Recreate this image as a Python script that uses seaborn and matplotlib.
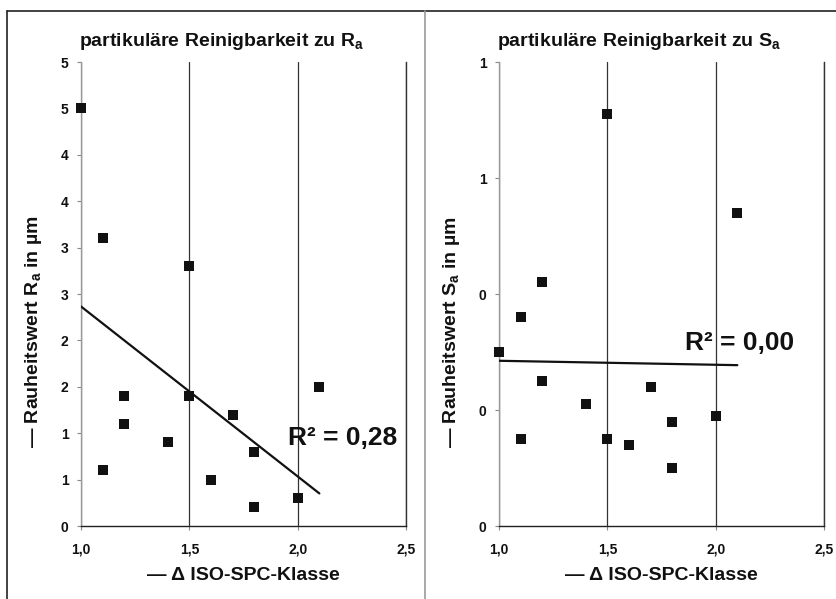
import numpy as np
import pandas as pd
import matplotlib
matplotlib.use("Agg")
import matplotlib.pyplot as plt
from matplotlib.lines import Line2D
import seaborn as sns

# Daten
iso_ra = [1.0, 1.1, 1.5, 1.2, 1.2, 1.1, 1.4, 1.5, 1.7, 1.8, 1.6, 1.8, 2.0, 2.1]
ra = [4.5, 3.1, 2.8, 1.4, 1.1, 0.6, 0.9, 1.4, 1.2, 0.8, 0.5, 0.2, 0.3, 1.5]

iso_sa = [1.5, 2.1, 1.2, 1.1, 1.0, 1.2, 1.4, 1.7, 2.0, 1.8, 1.1, 1.5, 1.6, 1.8]
sa = [0.71, 0.54, 0.42, 0.36, 0.30, 0.25, 0.21, 0.24, 0.19, 0.18, 0.15, 0.15, 0.14, 0.10]

x_ticks = [1.0, 1.5, 2.0, 2.5]
x_labels = ["1,0", "1,5", "2,0", "2,5"]
ra_ticks = [0, 0.5, 1, 1.5, 2, 2.5, 3, 3.5, 4, 4.5, 5]
ra_labels = ["0", "1", "1", "2", "2", "3", "3", "4", "4", "5", "5"]
sa_ticks = [0, 0.2, 0.4, 0.6, 0.8]
sa_labels = ["0", "0", "0", "1", "1"]

sns.set_style("white")
plt.rcParams['font.family'] = ['Liberation Sans', 'DejaVu Sans']
plt.rcParams['font.weight'] = 'bold'
plt.rcParams['mathtext.fontset'] = 'custom'
plt.rcParams['mathtext.rm'] = 'Liberation Sans:bold'
plt.rcParams['mathtext.it'] = 'Liberation Sans:bold'
plt.rcParams['mathtext.bf'] = 'Liberation Sans:bold'

fig = plt.figure(figsize=(8.37, 5.99), dpi=100)
W, H = 837, 599

panels = [
    dict(x=iso_ra, y=ra, ticks=ra_ticks, labels=ra_labels, ylim=(0, 5), sym="R",
         left=81, r2pos=(1.955, 0.95)),
    dict(x=iso_sa, y=sa, ticks=sa_ticks, labels=sa_labels, ylim=(0, 0.8), sym="S",
         left=499, r2pos=(1.86, 0.316)),
]

for p in panels:
    ax = fig.add_axes([p['left'] / W, 1 - 526 / H, 325 / W, 464 / H])
    df = pd.DataFrame({'iso': p['x'], 'val': p['y']})
    sns.scatterplot(data=df, x='iso', y='val', marker='s', color='#111111',
                    s=52, linewidth=0, ax=ax, zorder=4, clip_on=False)
    sns.regplot(data=df, x='iso', y='val', scatter=False, ci=None, truncate=True,
                line_kws=dict(color='#111111', lw=1.6, zorder=3), ax=ax)
    r2 = np.corrcoef(p['x'], p['y'])[0, 1] ** 2
    ax.text(p['r2pos'][0], p['r2pos'][1], f"R² = {r2:.2f}".replace('.', ','),
            fontsize=19, fontweight='bold', va='center', ha='left', color='#111111',
            zorder=5)

    ax.set_xlim(1.0, 2.5)
    ax.set_ylim(*p['ylim'])
    ax.set_xticks(x_ticks)
    ax.set_xticklabels(x_labels)
    ax.set_yticks(p['ticks'])
    ax.set_yticklabels(p['labels'])
    ax.set_xlabel("")
    ax.set_ylabel("")
    ax.tick_params(axis='both', labelsize=10, length=3, width=0.8, color='#888888',
                   left=True, bottom=True, labelcolor='#111111')
    ax.tick_params(axis='x', pad=9)
    ax.tick_params(axis='y', pad=6)
    ax.xaxis.grid(True, color='#333333', lw=0.9)
    ax.yaxis.grid(False)
    ax.spines['top'].set_visible(False)
    ax.spines['left'].set_color('#999999')
    ax.spines['right'].set_color('#333333')
    ax.spines['bottom'].set_color('#222222')
    for s in ax.spines.values():
        s.set_linewidth(1.0)

    off = p['left'] - 81
    fig.text((79 + off) / W, 1 - 46 / H,
             f"partikuläre Reinigbarkeit zu {p['sym']}$_a$",
             fontsize=14, fontweight='bold', ha='left', va='baseline', color='#111111')
    fig.text((34 + off) / W, 1 - 332 / H,
             f"— Rauheitswert {p['sym']}$_a$ in µm",
             fontsize=14, fontweight='bold', ha='center', va='center', rotation=90,
             color='#111111')
    fig.text((243 + off) / W, 1 - 575 / H, "— Δ ISO-SPC-Klasse",
             fontsize=14, fontweight='bold', ha='center', va='center', color='#111111')

# Rahmen
fig.add_artist(Line2D([7 / W, 1], [1 - 11 / H, 1 - 11 / H], color='#222222', lw=1.2))
fig.add_artist(Line2D([7 / W, 7 / W], [0, 1 - 11 / H], color='#222222', lw=1.2))
fig.add_artist(Line2D([425 / W, 425 / W], [0, 1 - 11 / H], color='#999999', lw=1.2))

fig.savefig("out.png", dpi=100)
